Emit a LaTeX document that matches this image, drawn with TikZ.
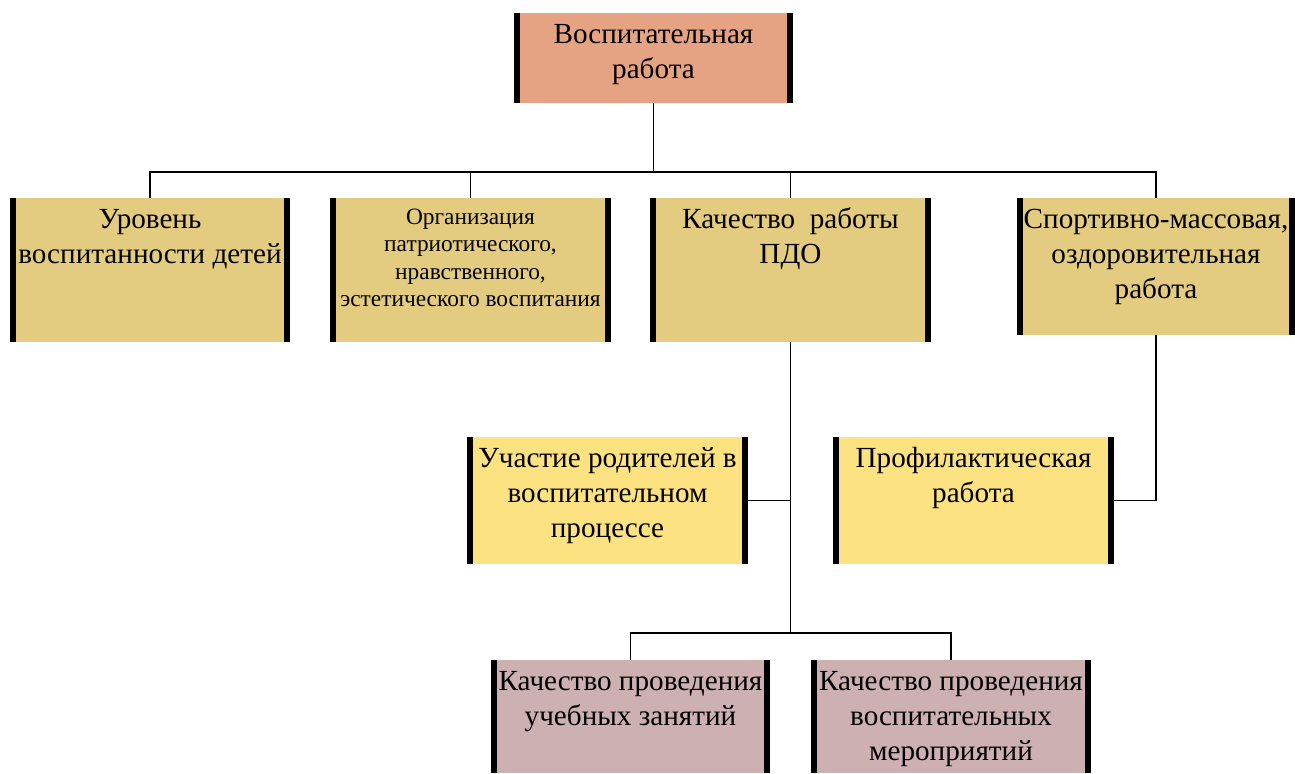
\documentclass[tikz,border=0pt]{standalone}
\usepackage{fontspec}
\setmainfont{Liberation Serif}
\usepackage{xcolor}
\usetikzlibrary{positioning,calc}

\definecolor{headfill}{HTML}{E5A384}
\definecolor{rowfill}{HTML}{E3CB80}
\definecolor{midfill}{HTML}{FDE281}
\definecolor{lowfill}{HTML}{CDB0B1}

% width, height, text; optional: height of first line
\newcommand{\cardtext}[4][17.2pt]{\parbox[c][#3][t]{#2}{\centering\rule{0pt}{#1}#4}}

\begin{document}
\begin{tikzpicture}[x=1cm, y=1cm, line width=0.85pt,
  card/.style={rectangle, inner sep=0pt, outer sep=0pt,
    font=\fontsize{16.6}{19.9}\selectfont,
    path picture={
      \fill[black] (path picture bounding box.south west) rectangle ([xshift=0.12cm]path picture bounding box.north west);
      \fill[black] ([xshift=-0.12cm]path picture bounding box.south east) rectangle (path picture bounding box.north east);
    }},
]
  \useasboundingbox (0,0) rectangle (25.9,15.46);

  \node[card, fill=headfill] (vosp) at (13.07,14.30) {\cardtext{5.58cm}{1.8cm}{Воспитательная\\работа}};

  % first row
  \node[card, fill=rowfill] (uroven) at (3.00,10.06) {\cardtext{5.6cm}{2.88cm}{Уровень\\воспитанности детей}};
  \node[card, fill=rowfill, font=\fontsize{13.3}{15.6}\selectfont] (organiz) at (9.41,10.06)
    {\cardtext[14.9pt]{5.62cm}{2.88cm}{Организация\\патриотического,\\нравственного,\\эстетического воспитания}};
  \node[card, fill=rowfill] (pdo) at (15.81,10.06) {\cardtext{5.62cm}{2.88cm}{Качество~~работы\\ПДО}};
  \node[card, fill=rowfill] (sport) at (23.12,10.13) {\cardtext{5.56cm}{2.74cm}{Спортивно-массовая,\\оздоровительная\\работа}};

  % second row
  \node[card, fill=midfill] (roditeli) at (12.15,5.45) {\cardtext{5.62cm}{2.54cm}{Участие родителей в\\воспитательном\\процессе}};
  \node[card, fill=midfill] (profil) at (19.47,5.45) {\cardtext{5.62cm}{2.54cm}{Профилактическая\\работа}};

  % third row
  \node[card, fill=lowfill] (zanyatiya) at (12.61,1.13) {\cardtext{5.58cm}{2.26cm}{Качество проведения\\учебных занятий}};
  \node[card, fill=lowfill] (meropr) at (19.02,1.13) {\cardtext{5.6cm}{2.26cm}{Качество проведения\\воспитательных\\мероприятий}};

  \coordinate (bus) at (0,12.02);
  \coordinate (lowbus) at (0,2.8);

  \draw (vosp.south) -- (vosp.south |- bus) -| (uroven.north);
  \draw (vosp.south |- bus) -| (organiz.north);
  \draw (vosp.south |- bus) -| (pdo.north);
  \draw (vosp.south |- bus) -| (sport.north);

  \draw (pdo.south) -- (pdo.south |- lowbus) -| (zanyatiya.north);
  \draw (pdo.south |- lowbus) -| (meropr.north);
  \draw (roditeli.east) -- (roditeli.east -| pdo.south);
  \draw (profil.east) -| (sport.south);
\end{tikzpicture}
\end{document}
